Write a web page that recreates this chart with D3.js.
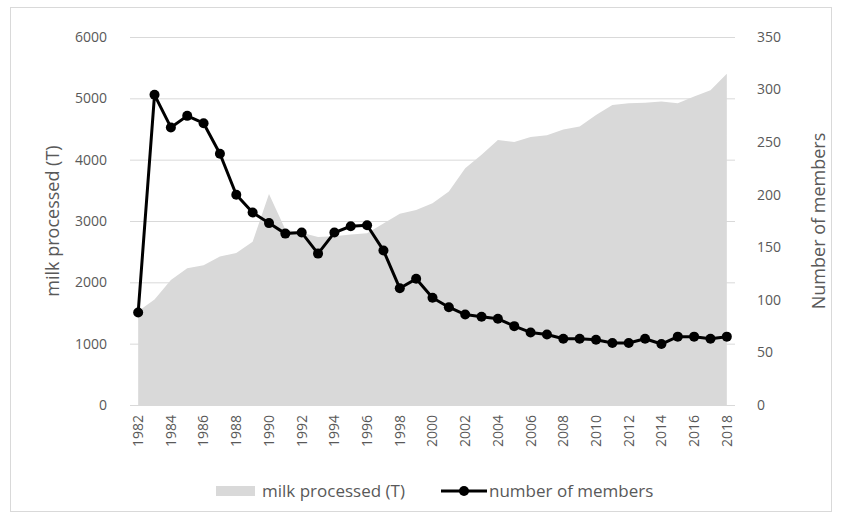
<!DOCTYPE html>
<html><head><meta charset="utf-8">
<script src="https://cdn.jsdelivr.net/npm/d3@7"></script>
<style>body{margin:0;background:#fff}svg{display:block;font-family:"Open Sans","Noto Sans",sans-serif}</style>
</head><body><svg id="c" width="841" height="518"></svg>
<script>
const years = d3.range(1982, 2019).map(String);
const milk = [1530,1720,2040,2230,2280,2420,2480,2660,3440,2860,2810,2740,2750,2780,2800,2960,3120,3180,3290,3480,3860,4080,4320,4290,4370,4400,4490,4540,4730,4890,4920,4930,4950,4920,5030,5130,5400];
const members = [88,295,264,275,268,239,200,183,173,163,164,144,164,170,171,147,111,120,102,93,86,84,82,75,69,67,63,63,62,59,59,63,58,65,65,63,65];
const leftTicks = [0,1000,2000,3000,4000,5000,6000];
const rightTicks = [0,50,100,150,200,250,300,350];

const svg = d3.select("#c");
const L = 130, R = 735, T = 37, B = 405;
svg.append("rect").attr("x",10.5).attr("y",7.5).attr("width",821).attr("height",504)
  .attr("fill","#fff").attr("stroke","#d9d9d9");

const x = d3.scalePoint().domain(years).range([L,R]).padding(0.5);
const yL = d3.scaleLinear().domain([0,6000]).range([B,T]);
const yR = d3.scaleLinear().domain([0,350]).range([B,T]);

// gridlines
svg.append("g").selectAll("line").data(leftTicks.slice(1)).join("line")
  .attr("x1",L).attr("x2",R).attr("y1",d=>yL(d)+0.5).attr("y2",d=>yL(d)+0.5)
  .attr("stroke","#d9d9d9").attr("stroke-width",1);

// area
svg.append("path").datum(milk)
  .attr("d", d3.area().x((d,i)=>x(years[i])).y0(yL(0)).y1(d=>yL(d)))
  .attr("fill","#d9d9d9");

// bottom axis line
svg.append("line").attr("x1",L).attr("x2",R).attr("y1",B+0.5).attr("y2",B+0.5).attr("stroke","#d9d9d9");

const tc = "#595959";
svg.append("g").selectAll("text").data(leftTicks).join("text")
  .attr("x",107).attr("y",d=>yL(d)).attr("dy","0.35em").attr("text-anchor","end")
  .attr("font-size",14).attr("fill",tc).text(d=>d);
svg.append("g").selectAll("text").data(rightTicks).join("text")
  .attr("x",757).attr("y",d=>yR(d)).attr("dy","0.35em").attr("text-anchor","start")
  .attr("font-size",14).attr("fill",tc).text(d=>d);

// x labels
svg.append("g").selectAll("text").data(years.filter((d,i)=>i%2===0)).join("text")
  .attr("transform",d=>`translate(${x(d)},415) rotate(-90)`)
  .attr("dy","0.35em").attr("text-anchor","end")
  .attr("font-size",14).attr("fill",tc).text(d=>d);

// axis titles
svg.append("text").attr("transform","translate(53,221) rotate(-90)")
  .attr("text-anchor","middle").attr("dy","0.35em").attr("font-size",18).attr("fill",tc).text("milk processed (T)");
svg.append("text").attr("transform","translate(819,221) rotate(-90)")
  .attr("text-anchor","middle").attr("dy","0.35em").attr("font-size",18).attr("fill",tc).text("Number of members");

// line
svg.append("path").datum(members)
  .attr("d", d3.line().x((d,i)=>x(years[i])).y(d=>yR(d)))
  .attr("fill","none").attr("stroke","#000").attr("stroke-width",3).attr("stroke-linejoin","round");
svg.append("g").selectAll("circle").data(members).join("circle")
  .attr("cx",(d,i)=>x(years[i])).attr("cy",d=>yR(d)).attr("r",5).attr("fill","#000");

// legend
const ly = 491;
svg.append("rect").attr("x",216).attr("y",ly-5).attr("width",39).attr("height",10).attr("fill","#d9d9d9");
svg.append("text").attr("x",262).attr("y",ly).attr("dy","0.35em").attr("font-size",17).attr("fill",tc).text("milk processed (T)");
svg.append("line").attr("x1",441).attr("x2",487).attr("y1",ly).attr("y2",ly).attr("stroke","#000").attr("stroke-width",3);
svg.append("circle").attr("cx",464).attr("cy",ly).attr("r",5).attr("fill","#000");
svg.append("text").attr("x",489).attr("y",ly).attr("dy","0.35em").attr("font-size",17).attr("fill",tc).text("number of members");
</script></body></html>
